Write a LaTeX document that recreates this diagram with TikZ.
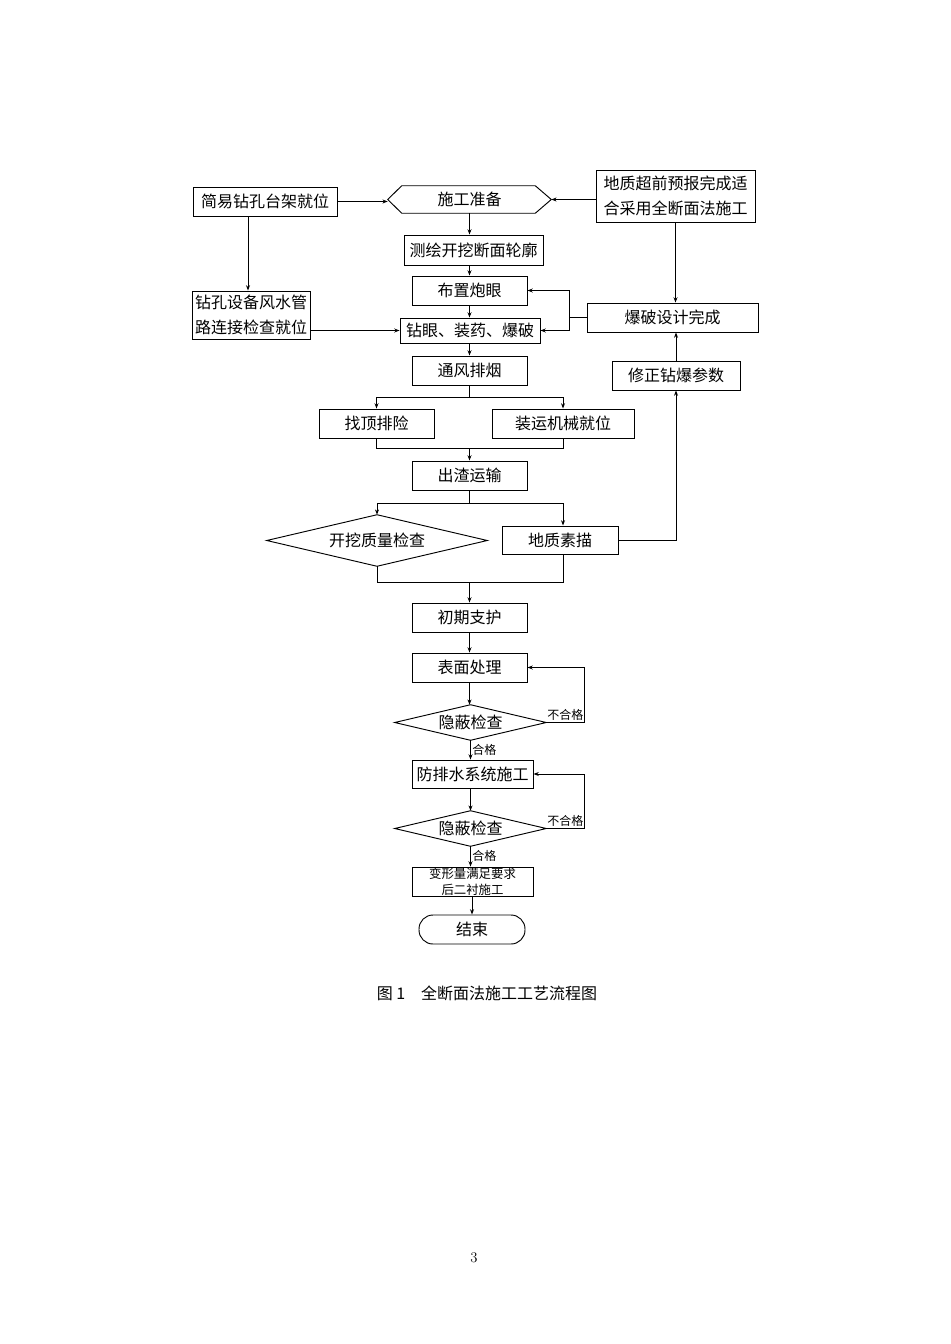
\documentclass[tikz,border=0pt]{standalone}
\usepackage{fontspec}
\newfontfamily\cjk{Noto Sans CJK SC}
\usetikzlibrary{shapes.geometric,calc,arrows.meta}
\tikzset{
  sz/.style 2 args={minimum width=#1*0.75pt, minimum height=#2*0.75pt},
  box/.style={draw, line width=0.7pt, inner sep=0pt, font=\cjk\fontsize{12}{18.5}\selectfont},
  dia/.style={inner sep=0pt, font=\cjk\fontsize{12}{14}\selectfont},
  arr/.style={-{Stealth[length=4pt,width=3pt]}, line width=0.7pt},
  ln/.style={line width=0.7pt},
  lab/.style={font=\cjk\fontsize{9}{10}\selectfont, inner sep=1pt}
}
\begin{document}
\begin{tikzpicture}[x=0.75pt,y=-0.75pt]
\useasboundingbox (0,0) rectangle (950,1344);

\node[box,sz={144}{29}] (a) at (265,201.5) {简易钻孔台架就位};
\node[box,sz={159}{52},align=center] (geo) at (675.5,196) {地质超前预报完成适\\合采用全断面法施工};
\node[sz={163}{27},inner sep=0pt,font=\cjk\fontsize{12}{14}\selectfont] (prep) at (469.5,199.5) {施工准备};
\draw[ln] (prep.west) -- ($(prep.north west)+(14,0)$) -- ($(prep.north east)+(-16,0)$) -- (prep.east)
  -- ($(prep.south east)+(-16,0)$) -- ($(prep.south west)+(14,0)$) -- cycle;
\node[box,sz={139}{30}] (survey) at (473.5,250) {测绘开挖断面轮廓};
\node[box,sz={115}{29}] (layout) at (469.5,290.5) {布置炮眼};
\node[box,sz={118}{48},align=center] (equip) at (251,315) {钻孔设备风水管\\路连接检查就位};
\node[box,sz={140}{25}] (drill) at (470,330.5) {钻眼、装药、爆破};
\node[box,sz={171}{29}] (design) at (672.5,317.5) {爆破设计完成};
\node[box,sz={128}{29}] (fix) at (676,375.5) {修正钻爆参数};
\node[box,sz={115}{29}] (vent) at (469.5,370.5) {通风排烟};
\node[box,sz={115}{29}] (roof) at (376.5,423.5) {找顶排险};
\node[box,sz={142}{29}] (mach) at (563,423.5) {装运机械就位};
\node[box,sz={115}{29}] (muck) at (469.5,475.5) {出渣运输};
\node[dia,sz={220}{51}] (qc) at (377,540.5) {开挖质量检查};
\draw[ln] (qc.west) -- (qc.north) -- (qc.east) -- (qc.south) -- cycle;
\node[box,sz={116}{28}] (sketch) at (560,540) {地质素描};
\node[box,sz={115}{29}] (support) at (469.5,617.5) {初期支护};
\node[box,sz={115}{29}] (surf) at (469.5,667.5) {表面处理};
\node[dia,sz={151}{35}] (chk1) at (470.5,722.5) {隐蔽检查};
\draw[ln] (chk1.west) -- (chk1.north) -- (chk1.east) -- (chk1.south) -- cycle;
\node[box,sz={121}{28}] (water) at (472.5,774) {防排水系统施工};
\node[dia,sz={151}{35}] (chk2) at (470.5,828.5) {隐蔽检查};
\draw[ln] (chk2.west) -- (chk2.north) -- (chk2.east) -- (chk2.south) -- cycle;
\node[box,sz={121}{29},align=center,font=\cjk\fontsize{9.3}{12}\selectfont] (lining) at (472.5,881.5) {变形量满足要求\\后二衬施工};
\node[box,sz={106}{29},rounded corners=10.5pt] (end) at (472,929.5) {结束};

\node[font=\cjk\fontsize{12}{14}\selectfont] (cap) at (487,993) {图 1\quad 全断面法施工工艺流程图};
\node[font=\fontsize{11}{12}\selectfont] (pg) at (474,1258) {3};

% connectors
\draw[arr] (a.east) -- (a.east -| prep.west);
\draw[arr] (prep.east -| geo.west) -- (prep.east);
\draw[arr] (prep.south) -- (prep.south |- survey.north);
\draw[arr] (survey.south -| layout.north) -- (layout.north);
\draw[arr] (layout.south) -- (layout.south |- drill.north);
\coordinate (a1) at ($(a.south)+(-17,0)$);
\draw[arr] (a1) -- (a1 |- equip.north);
\draw[arr] (drill.west -| equip.east) -- (drill.west);
\draw[arr] (design.west) -- ++(-17,0) |- (layout.east);
\draw[arr] (design.west) -- ++(-17,0) |- (drill.east);
\draw[arr] (geo.south) -- (geo.south |- design.north);
\draw[arr] (fix.north) -- (fix.north |- design.south);
\draw[arr] (sketch.east) -| (fix.south);
\draw[arr] (drill.south -| vent.north) -- (vent.north);
\coordinate (v) at ($(vent.south)+(0,12)$);
\draw[ln] (vent.south) -- (v);
\draw[arr] (v) -| (roof.north);
\draw[arr] (v) -| (mach.north);
\coordinate (m) at ($(muck.north)+(0,-12)$);
\draw[ln] (roof.south) |- (m);
\draw[ln] (mach.south) |- (m);
\draw[arr] (m) -- (muck.north);
\coordinate (s) at ($(muck.south)+(0,13)$);
\draw[ln] (muck.south) -- (s);
\draw[arr] (s) -| (qc.north);
\draw[arr] (s) -| (mach.south |- sketch.north);
\coordinate (m2) at ($(support.north)+(0,-20)$);
\draw[ln] (qc.south) |- (m2);
\draw[ln] (sketch.south -| mach.south) |- (m2);
\draw[arr] (m2) -- (support.north);
\draw[arr] (support) -- (surf);
\draw[arr] (surf.south) -- (surf.south |- chk1.north);
\draw[arr] (chk1.east) -- node[lab,above]{不合格} ++(38,0) |- (surf.east);
\draw[arr] (chk1.south) -- node[lab,right]{合格} (chk1.south |- water.north);
\draw[arr] (water.south -| chk2.north) -- (chk2.north);
\draw[arr] (chk2.east) -- node[lab,above]{不合格} ++(38,0) |- (water.east);
\draw[arr] (chk2.south) -- node[lab,right]{合格} (chk2.south |- lining.north);
\draw[arr] (lining.south -| end.north) -- (end.north);
\end{tikzpicture}
\end{document}
